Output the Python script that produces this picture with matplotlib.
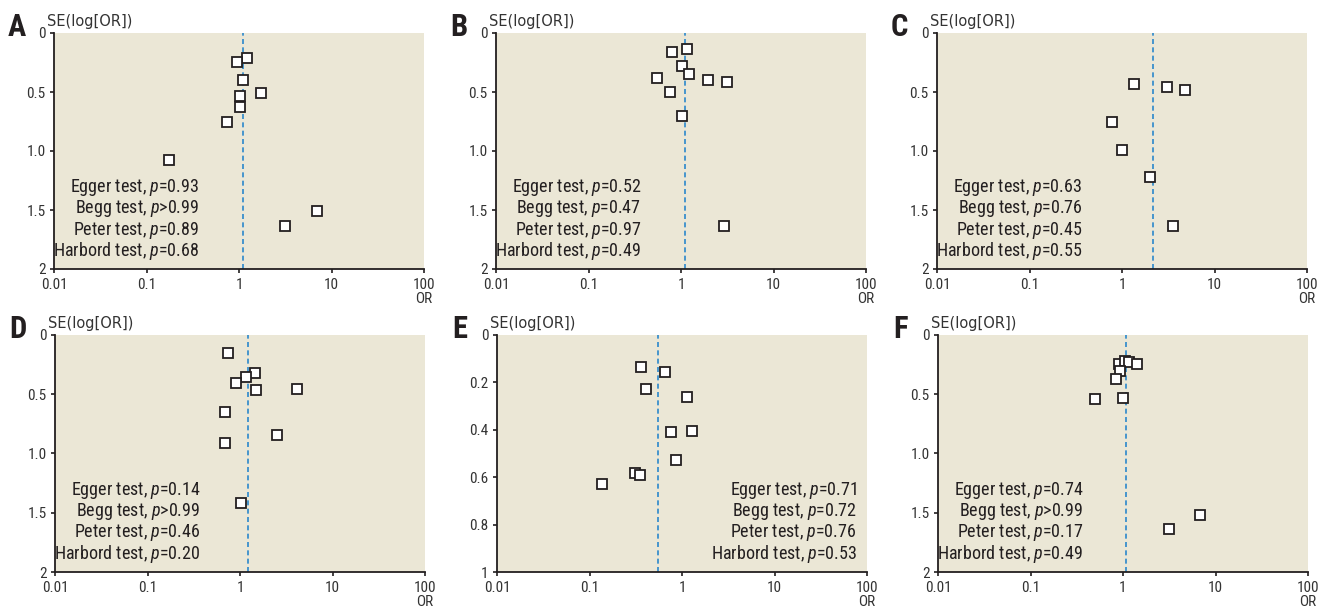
import matplotlib
matplotlib.use("Agg")
import matplotlib.pyplot as plt
from matplotlib import font_manager

# pick a narrow face if one is installed
narrow = "DejaVu Sans"
for fam in ["Liberation Sans Narrow", "Roboto Condensed", "Arial Narrow"]:
    try:
        font_manager.findfont(fam, fallback_to_default=False)
        narrow = fam
        break
    except ValueError:
        pass

plt.rcParams["mathtext.fontset"] = "custom"
plt.rcParams["mathtext.rm"] = narrow
plt.rcParams["mathtext.it"] = narrow + ":italic"

# panel data: odds ratio and SE(log OR) of each study, pooled OR
or_a = [1.21, 0.96, 1.10, 1.72, 1.02, 1.02, 0.75, 0.173, 6.93, 3.15]
se_a = [0.215, 0.243, 0.399, 0.512, 0.537, 0.628, 0.752, 1.078, 1.511, 1.632]
pool_a = 1.11
tests_a = ["0.93", ">0.99", "0.89", "0.68"]

or_b = [1.16, 0.79, 1.02, 1.22, 0.548, 1.94, 3.16, 0.757, 1.02, 2.91]
se_b = [0.133, 0.158, 0.280, 0.351, 0.382, 0.399, 0.419, 0.504, 0.704, 1.632]
pool_b = 1.10
tests_b = ["0.52", "0.47", "0.97", "0.49"]

or_c = [1.34, 3.03, 4.81, 0.77, 0.996, 2.01, 3.54]
se_c = [0.430, 0.461, 0.481, 0.758, 0.990, 1.219, 1.632]
pool_c = 2.15
tests_c = ["0.63", "0.76", "0.45", "0.55"]

or_d = [0.745, 1.47, 1.15, 0.916, 1.50, 4.14, 0.686, 2.52, 0.680, 1.03]
se_d = [0.149, 0.318, 0.352, 0.406, 0.462, 0.459, 0.651, 0.842, 0.915, 1.414]
pool_d = 1.22
tests_d = ["0.14", ">0.99", "0.46", "0.20"]

or_e = [0.363, 0.660, 0.411, 1.14, 0.760, 1.28, 0.868, 0.313, 0.351, 0.136]
se_e = [0.135, 0.156, 0.228, 0.261, 0.410, 0.407, 0.527, 0.582, 0.589, 0.627]
pool_e = 0.555
tests_e = ["0.71", "0.72", "0.76", "0.53"]

or_f = [0.913, 1.06, 1.16, 1.41, 0.935, 0.834, 0.494, 1.01, 6.85, 3.12]
se_f = [0.242, 0.220, 0.231, 0.248, 0.307, 0.369, 0.544, 0.532, 1.518, 1.639]
pool_f = 1.09
tests_f = ["0.74", ">0.99", "0.17", "0.49"]

test_names = ["Egger test", "Begg test", "Peter test", "Harbord test"]
x_ticks = [0.01, 0.1, 1, 10, 100]
x_labels = ["0.01", "0.1", "1", "10", "100"]
y_ticks_2 = [0, 0.5, 1.0, 1.5, 2]
y_labels_2 = ["0", "0.5", "1.0", "1.5", "2"]
y_ticks_1 = [0, 0.2, 0.4, 0.6, 0.8, 1]
y_labels_1 = ["0", "0.2", "0.4", "0.6", "0.8", "1"]

panels = [
    ("A", or_a, se_a, pool_a, tests_a, 2, "left"),
    ("B", or_b, se_b, pool_b, tests_b, 2, "left"),
    ("C", or_c, se_c, pool_c, tests_c, 2, "left"),
    ("D", or_d, se_d, pool_d, tests_d, 2, "left"),
    ("E", or_e, se_e, pool_e, tests_e, 1, "right"),
    ("F", or_f, se_f, pool_f, tests_f, 2, "left"),
]

W, H = 1318, 609
fig = plt.figure(figsize=(W / 100, H / 100), dpi=100)
lefts = [54, 496, 937, 55, 497, 938]
tops = [33, 33, 33, 335, 335, 335]
bottoms = [269, 269, 269, 572, 572, 572]
bg = "#ebe7d6"
ink = "#231f20"

for i, (letter, ors, ses, pool, tests, ymax, side) in enumerate(panels):
    l, t, b = lefts[i], tops[i], bottoms[i]
    ax = fig.add_axes([l / W, 1 - b / H, 370 / W, (b - t) / H])
    ax.set_facecolor(bg)
    ax.set_xscale("log")
    ax.set_xlim(0.01, 100)
    ax.set_ylim(ymax, 0)
    ax.axvline(pool, color="#2a88cc", lw=1.2, ls=(0, (3, 2)), zorder=2)
    ax.plot(ors, ses, ls="none", marker="s", ms=6.5, mfc="white",
            mec=ink, mew=1.3, zorder=3)

    ax.set_xticks(x_ticks)
    ax.set_xticklabels(x_labels)
    ax.minorticks_off()
    if ymax == 2:
        ax.set_yticks(y_ticks_2)
        ax.set_yticklabels(y_labels_2)
    else:
        ax.set_yticks(y_ticks_1)
        ax.set_yticklabels(y_labels_1)
    ax.tick_params(direction="out", length=3, width=1.2, color=ink,
                   labelsize=11, labelcolor="#333333")
    ax.tick_params(axis="x", pad=3.5)
    ax.tick_params(axis="y", pad=3)
    for lab in ax.get_xticklabels() + ax.get_yticklabels():
        lab.set_family(narrow)
    for s in ["top", "right"]:
        ax.spines[s].set_visible(False)
    for s in ["left", "bottom"]:
        ax.spines[s].set_linewidth(1.3)
        ax.spines[s].set_color(ink)

    # p-value block
    if side == "left":
        tx = 0.393
    else:
        tx = 0.973
    for k, (name, pv) in enumerate(zip(test_names, tests)):
        sign = "" if pv.startswith(">") else "="
        ax.text(tx, 0.345 - k * 0.09, name + ", $\\mathit{p}$" + sign + pv,
                transform=ax.transAxes, ha="right", va="center",
                fontsize=13, color=ink, family=narrow)

    ax.annotate("SE(log[OR])", xy=(0, 1), xycoords="axes fraction",
                xytext=(-5, 8), textcoords="offset points", ha="left",
                va="center", fontsize=10.5, color="#333333")
    ax.annotate(letter, xy=(0, 1), xycoords="axes fraction",
                xytext=(-27, -2), textcoords="offset points", ha="center",
                va="baseline", fontsize=22, fontweight="bold", color=ink,
                family=narrow)
    ax.annotate("OR", xy=(1, 0), xycoords="axes fraction",
                xytext=(0, -21.5), textcoords="offset points", ha="center",
                va="center", fontsize=11, color="#333333", family=narrow)

fig.savefig("out.png", dpi=100, facecolor="white")
